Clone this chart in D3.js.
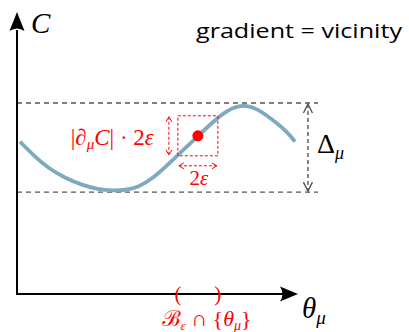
<!DOCTYPE html>
<html>
<head>
<meta charset="utf-8">
<script src="https://cdn.jsdelivr.net/npm/d3@7"></script>
<style>
  html, body { margin: 0; padding: 0; background: #fff; }
  svg { display: block; }
</style>
</head>
<body>
<svg id="chart" width="409" height="332"></svg>
<script>
// Cost landscape C(θ) sampled along the parameter axis
const theta = [1.07, 6.43, 11.07, 17.14, 23.21, 28.93, 33.93, 38.57, 43.21, 48.21, 54.64, 59.29, 64.64, 70.0, 75.0, 80.71, 85.71, 91.43, 96.43, 99.29];
const cost  = [54.4, 49.0, 45.0, 41.4, 38.9, 37.4, 36.9, 37.1, 38.1, 41.0, 46.9, 51.4, 56.4, 61.5, 65.7, 67.75, 66.3, 62.1, 58.0, 54.4];

// Band spanned by the cost (min / max) and its extent Δμ
const band = [36.4, 68.2];
const bandEnd = 107.5;     // dashed guides run to here
const deltaAt = 103.9;     // θ position of the Δμ arrow

// Probe point and its ε-neighbourhood
const probe = { theta: 64.6, cost: 56.5 };
const eps = 7.14;

const title = "gradient = vicinity";

const SERIF = "'Liberation Serif', 'Times New Roman', Tinos, 'Noto Serif', 'DejaVu Serif', Times, serif";

const svg = d3.select("#chart");
const x = d3.scaleLinear().domain([0, 100]).range([17, 297]);
const y = d3.scaleLinear().domain([0, 100]).range([294, 14]);

const red = "#ff0000";
const grey = "#555555";

const chev = (pts, color, w) => svg.append("path")
  .attr("d", d3.line()(pts))
  .attr("fill", "none").attr("stroke", color).attr("stroke-width", w)
  .attr("stroke-linejoin", "miter");

// ---- dashed band guides
svg.selectAll("line.band").data(band).join("line")
  .attr("class", "band")
  .attr("x1", x(0)).attr("x2", x(bandEnd))
  .attr("y1", d => y(d)).attr("y2", d => y(d))
  .attr("stroke", grey).attr("stroke-width", 1.4)
  .attr("stroke-dasharray", "5,4");

// ---- Δμ double arrow
const dx = x(deltaAt);
svg.append("line")
  .attr("x1", dx).attr("x2", dx)
  .attr("y1", y(band[1]) + 1).attr("y2", y(band[0]) - 1)
  .attr("stroke", grey).attr("stroke-width", 1.4)
  .attr("stroke-dasharray", "4,3");
chev([[dx - 4.5, y(band[1]) + 10], [dx, y(band[1]) + 1], [dx + 4.5, y(band[1]) + 10]], grey, 1.4);
chev([[dx - 4.5, y(band[0]) - 10], [dx, y(band[0]) - 1], [dx + 4.5, y(band[0]) - 10]], grey, 1.4);

const dl = svg.append("text")
  .style("font-family", SERIF)
  .attr("x", dx + 9).attr("y", y(band[0]) - 39)
  .attr("font-size", 28).attr("fill", "#000");
dl.append("tspan").text("Δ");
dl.append("tspan").attr("font-size", 18).attr("font-style", "italic")
  .attr("dy", 6).text("μ");

// ---- curve
const line = d3.line()
  .x((d, i) => x(theta[i]))
  .y(d => y(d))
  .curve(d3.curveBasis);
svg.append("path")
  .attr("d", line(cost))
  .attr("fill", "none")
  .attr("stroke", "#7eaac0")
  .attr("stroke-width", 3.8)
  .attr("stroke-linecap", "butt");

// ---- ε-neighbourhood box
const bx0 = x(probe.theta - eps), bx1 = x(probe.theta + eps);
const by0 = y(probe.cost + eps), by1 = y(probe.cost - eps);
svg.append("rect")
  .attr("x", bx0).attr("y", by0)
  .attr("width", bx1 - bx0).attr("height", by1 - by0)
  .attr("fill", "none").attr("stroke", red)
  .attr("stroke-width", 1).attr("stroke-dasharray", "3,2");

// vertical extent arrow
const vx = bx0 - 9;
svg.append("line").attr("x1", vx).attr("x2", vx)
  .attr("y1", by0 + 1).attr("y2", by1 - 1)
  .attr("stroke", red).attr("stroke-width", 1).attr("stroke-dasharray", "3,2");
chev([[vx - 3, by0 + 6], [vx, by0 + 1], [vx + 3, by0 + 6]], red, 1);
chev([[vx - 3, by1 - 6], [vx, by1 - 1], [vx + 3, by1 - 6]], red, 1);

// horizontal extent arrow
const hy = by1 + 10;
svg.append("line").attr("x1", bx0 + 1).attr("x2", bx1 - 1)
  .attr("y1", hy).attr("y2", hy)
  .attr("stroke", red).attr("stroke-width", 1).attr("stroke-dasharray", "3,2");
chev([[bx0 + 6, hy - 3], [bx0 + 1, hy], [bx0 + 6, hy + 3]], red, 1);
chev([[bx1 - 6, hy - 3], [bx1 - 1, hy], [bx1 - 6, hy + 3]], red, 1);

// probe point
svg.append("circle")
  .attr("cx", x(probe.theta)).attr("cy", y(probe.cost))
  .attr("r", 5.5).attr("fill", red);

// labels of the box
const lab = svg.append("text").style("font-family", SERIF)
  .attr("x", vx - 15).attr("y", y(probe.cost) + 9)
  .attr("text-anchor", "end").attr("font-size", 23).attr("fill", red);
lab.append("tspan").text("|");
lab.append("tspan").attr("font-style", "italic").text("∂");
lab.append("tspan").attr("font-style", "italic").attr("font-size", 15).attr("dy", 4).text("μ");
lab.append("tspan").attr("font-style", "italic").attr("dy", -4).text("C");
lab.append("tspan").text("| · 2");
lab.append("tspan").attr("font-style", "italic").text("ε");

const lab2 = svg.append("text").style("font-family", SERIF)
  .attr("x", (bx0 + bx1) / 2 + 1).attr("y", hy + 19)
  .attr("text-anchor", "middle").attr("font-size", 21).attr("fill", red);
lab2.append("tspan").text("2");
lab2.append("tspan").attr("font-style", "italic").text("ε");

// ---- axes with arrowheads
svg.append("path")
  .attr("d", d3.line()([[x(0), y(100) + 16], [x(0), y(0)], [x(100) - 12, y(0)]]))
  .attr("fill", "none").attr("stroke", "#000").attr("stroke-width", 2);
svg.append("path")
  .attr("d", `M${x(0)},${y(100) - 2} L${x(0) + 7.5},${y(100) + 17} Q${x(0)},${y(100) + 12} ${x(0) - 7.5},${y(100) + 17} Z`)
  .attr("fill", "#000");
svg.append("path")
  .attr("d", `M${x(100) + 1},${y(0)} L${x(100) - 17},${y(0) + 7.5} Q${x(100) - 12},${y(0)} ${x(100) - 17},${y(0) - 7.5} Z`)
  .attr("fill", "#000");

svg.append("text").style("font-family", SERIF)
  .attr("x", x(0) + 14).attr("y", 33)
  .attr("font-size", 29).attr("font-style", "italic").text("C");

const th = svg.append("text").style("font-family", SERIF)
  .attr("x", x(100) + 5).attr("y", 318)
  .attr("font-size", 29).attr("font-style", "italic");
th.append("tspan").text("θ");
th.append("tspan").attr("font-size", 19).attr("dy", 6).text("μ");

// interval on the θ axis
svg.selectAll("text.paren").data([["(", probe.theta - eps], [")", probe.theta + eps]]).join("text")
  .attr("class", "paren")
  .style("font-family", SERIF)
  .attr("x", d => x(d[1])).attr("y", y(0) + 7)
  .attr("text-anchor", "middle").attr("font-size", 21).attr("fill", red)
  .text(d => d[0]);

const set = svg.append("text").style("font-family", SERIF)
  .attr("x", x(probe.theta) + 9).attr("y", 326)
  .attr("text-anchor", "middle").attr("font-size", 22).attr("fill", red);
set.append("tspan").attr("font-style", "italic").text("ℬ");
set.append("tspan").attr("font-size", 13).attr("font-style", "italic").attr("dy", 4).text("ε");
set.append("tspan").attr("dy", -4).text(" ∩ {");
set.append("tspan").attr("font-style", "italic").text("θ");
set.append("tspan").attr("font-style", "italic").attr("font-size", 14).attr("dy", 4).text("μ");
set.append("tspan").attr("dy", -4).text("}");

// ---- title
svg.append("text")
  .attr("x", 196).attr("y", 38)
  .attr("font-family", "'Open Sans', 'Liberation Sans', sans-serif")
  .attr("font-size", 20).attr("fill", "#000")
  .attr("textLength", 206).attr("lengthAdjust", "spacingAndGlyphs")
  .text(title);
</script>
</body>
</html>
